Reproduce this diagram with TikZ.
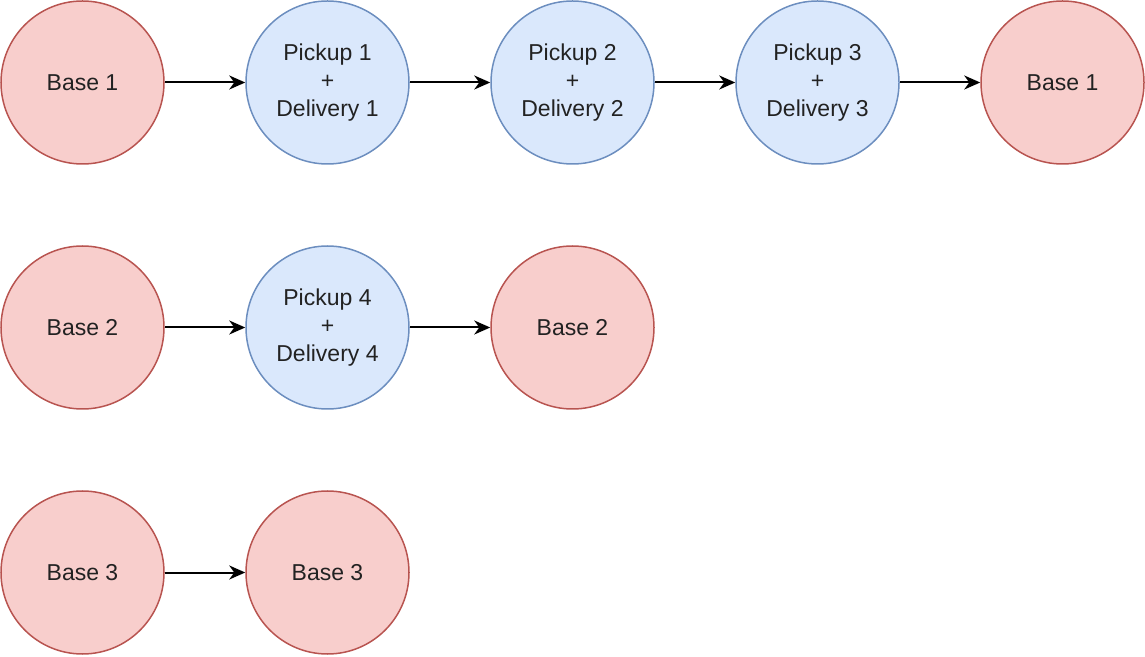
\documentclass[tikz,border=0pt]{standalone}
\usepackage{fontspec}
\setmainfont{Liberation Sans}
\usetikzlibrary{arrows.meta}
\definecolor{redfill}{HTML}{F8CECC}
\definecolor{redline}{HTML}{B85450}
\definecolor{bluefill}{HTML}{DAE8FC}
\definecolor{blueline}{HTML}{6C8EBF}
\definecolor{txt}{HTML}{222222}
\begin{document}
\begin{tikzpicture}[x=1pt,y=1pt,
  basenode/.style={circle,draw=redline,fill=redfill,line width=1.5pt,minimum size=163pt,inner sep=0pt,font=\fontsize{23}{28}\selectfont,text=txt,align=center},
  jobnode/.style={circle,draw=blueline,fill=bluefill,line width=1.5pt,minimum size=163pt,inner sep=0pt,font=\fontsize{23}{28}\selectfont,text=txt,align=center},
  link/.style={line width=2pt,-{Stealth[length=16pt,width=14pt,inset=5pt]}}]
\useasboundingbox (0,0) rectangle (1145,656);
% row 1
\node[basenode] (b1a) at (82.5,573.5) {Base 1};
\node[jobnode] (p1) at (327.5,573.5) {Pickup 1\\+\\Delivery 1};
\node[jobnode] (p2) at (572.5,573.5) {Pickup 2\\+\\Delivery 2};
\node[jobnode] (p3) at (817.5,573.5) {Pickup 3\\+\\Delivery 3};
\node[basenode] (b1b) at (1062.5,573.5) {Base 1};
% row 2
\node[basenode] (b2a) at (82.5,328.5) {Base 2};
\node[jobnode] (p4) at (327.5,328.5) {Pickup 4\\+\\Delivery 4};
\node[basenode] (b2b) at (572.5,328.5) {Base 2};
% row 3
\node[basenode] (b3a) at (82.5,83.5) {Base 3};
\node[basenode] (b3b) at (327.5,83.5) {Base 3};
\draw[link] (b1a) -- (p1);
\draw[link] (p1) -- (p2);
\draw[link] (p2) -- (p3);
\draw[link] (p3) -- (b1b);
\draw[link] (b2a) -- (p4);
\draw[link] (p4) -- (b2b);
\draw[link] (b3a) -- (b3b);
\end{tikzpicture}
\end{document}
